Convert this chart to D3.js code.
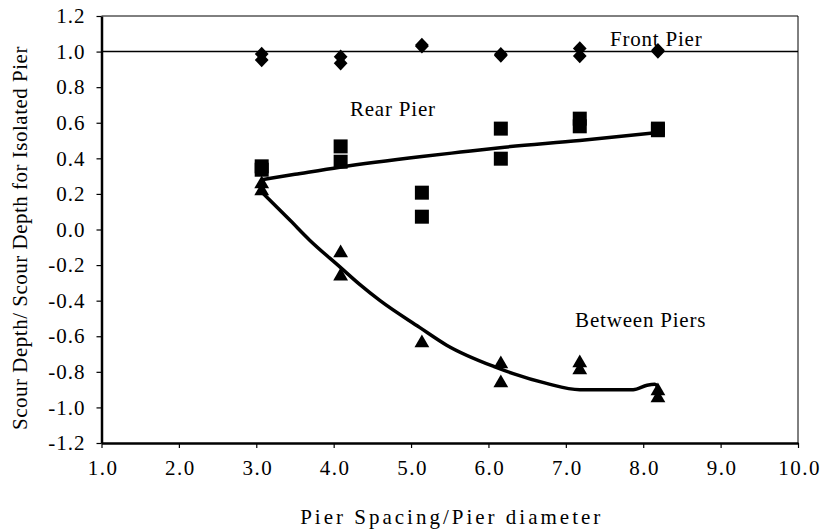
<!DOCTYPE html>
<html>
<head>
<meta charset="utf-8">
<script src="https://cdn.jsdelivr.net/npm/d3@7"></script>
<style>
  body { margin: 0; background: #fff; }
  text { font-family: "Liberation Serif", "Times New Roman", serif; fill: #000; }
</style>
</head>
<body>
<div id="chart"></div>
<script>
// data
const xTicks = [1, 2, 3, 4, 5, 6, 7, 8, 9, 10];
const yTicks = [-1.2, -1.0, -0.8, -0.6, -0.4, -0.2, 0.0, 0.2, 0.4, 0.6, 0.8, 1.0, 1.2];

const frontPier = [
  [3.07, 0.986], [3.07, 0.953], [4.09, 0.971], [4.09, 0.934],
  [5.14, 1.037], [5.14, 1.03], [6.16, 0.985], [6.16, 0.978],
  [7.18, 1.018], [7.18, 0.975], [8.19, 1.008], [8.19, 1.0]
];
const rearPier = [
  [3.07, 0.355], [3.07, 0.336], [4.09, 0.467], [4.09, 0.381],
  [5.14, 0.207], [5.14, 0.072], [6.16, 0.567], [6.16, 0.398],
  [7.18, 0.623], [7.18, 0.58], [8.19, 0.567], [8.19, 0.558]
];
const betweenPiers = [
  [3.07, 0.256], [3.07, 0.216], [4.09, -0.132], [4.09, -0.262],
  [5.14, -0.638], [6.16, -0.756], [6.16, -0.863],
  [7.18, -0.75], [7.18, -0.79], [8.19, -0.908], [8.19, -0.947]
];
const rearLine = [
  [3.07, 0.28], [3.5, 0.31], [4.08, 0.35], [5.14, 0.41], [5.64, 0.435],
  [6.15, 0.46], [7.18, 0.5], [8.19, 0.545]
];
const betweenLine = [
  [3.07, 0.21], [3.44, 0.05], [3.69, -0.06], [4.08, -0.21], [4.34, -0.31],
  [4.6, -0.4], [5.11, -0.55], [5.46, -0.65], [6.1, -0.775], [6.32, -0.81],
  [6.75, -0.865], [7.18, -0.9], [7.87, -0.9], [8.05, -0.875], [8.15, -0.87], [8.19, -0.885]
];
const labels = [
  { text: "Front Pier", x: 7.57, y: 1.031 },
  { text: "Rear Pier", x: 4.21, y: 0.638 },
  { text: "Between Piers", x: 7.12, y: -0.548 }
];

const W = 821, H = 531;
const mLeft = 101.5, mRight = 798, mTop = 16, mBottom = 443;

const svg = d3.select("#chart")
  .append("svg")
  .attr("width", W)
  .attr("height", H);

const x = d3.scaleLinear().domain([1, 10]).range([mLeft, mRight]);
const y = d3.scaleLinear().domain([-1.2, 1.2]).range([mBottom, mTop]);

// frame: thin top/right
svg.append("path")
  .attr("d", `M${mLeft},${mTop}H${mRight}V${mBottom}`)
  .attr("fill", "none")
  .attr("stroke", "#000")
  .attr("stroke-width", 1);

// reference line at 1.0
svg.append("line")
  .attr("x1", mLeft).attr("x2", mRight)
  .attr("y1", y(1)).attr("y2", y(1))
  .attr("stroke", "#000")
  .attr("stroke-width", 1.5);

// axes
const xAxis = svg.append("g")
  .attr("transform", `translate(0,${mBottom})`)
  .call(d3.axisBottom(x).tickValues(xTicks).tickFormat(d3.format(".1f")).tickSize(5).tickSizeOuter(0));
const yAxis = svg.append("g")
  .attr("transform", `translate(${mLeft},0)`)
  .call(d3.axisLeft(y).tickValues(yTicks).tickFormat(d => d3.format(".1f")(d).replace("−", "-")).tickSize(5).tickSizeOuter(0));

[xAxis, yAxis].forEach(g => {
  g.select(".domain").attr("stroke-width", 2.5);
  g.selectAll(".tick line").attr("stroke-width", 1.2);
  g.selectAll(".tick text")
    .style("font-family", '"Liberation Serif", "Times New Roman", serif')
    .style("font-size", "21px")
    .attr("fill", "#000");
});
xAxis.selectAll(".tick text").attr("y", 17).style("letter-spacing", "1.5px").attr("dx", 1);
yAxis.selectAll(".tick text").attr("x", -16).style("letter-spacing", "1px");

// axis titles
svg.append("text")
  .attr("x", (mLeft + mRight) / 2 + 2)
  .attr("y", 524)
  .attr("text-anchor", "middle")
  .style("font-size", "21px")
  .style("letter-spacing", "3px")
  .text("Pier Spacing/Pier diameter");

svg.append("text")
  .attr("transform", `translate(27,${(36 + 440) / 2}) rotate(-90)`)
  .attr("text-anchor", "middle")
  .style("font-size", "21px")
  .style("letter-spacing", "0.5px")
  .text("Scour Depth/ Scour Depth for Isolated Pier");

// fitted curves
const line = d3.line().x(d => x(d[0])).y(d => y(d[1])).curve(d3.curveMonotoneX);
[rearLine, betweenLine].forEach(pts => {
  svg.append("path")
    .attr("d", line(pts))
    .attr("fill", "none")
    .attr("stroke", "#000")
    .attr("stroke-width", 3.5)
    .attr("stroke-linejoin", "round");
});

// markers
svg.selectAll(".diamond")
  .data(frontPier)
  .enter()
  .append("path")
  .attr("d", d3.symbol(d3.symbolDiamond2, 120))
  .attr("transform", d => `translate(${x(d[0])},${y(d[1])}) scale(1,1.05)`)
  .attr("fill", "#000");

svg.selectAll(".square")
  .data(rearPier)
  .enter()
  .append("rect")
  .attr("x", d => x(d[0]) - 7)
  .attr("y", d => y(d[1]) - 7)
  .attr("width", 14)
  .attr("height", 14)
  .attr("fill", "#000");

svg.selectAll(".tri")
  .data(betweenPiers)
  .enter()
  .append("path")
  .attr("d", d3.symbol(d3.symbolTriangle, 95))
  .attr("transform", d => `translate(${x(d[0])},${y(d[1])})`)
  .attr("fill", "#000");

// series labels
svg.selectAll(".lbl")
  .data(labels)
  .enter()
  .append("text")
  .attr("x", d => x(d.x))
  .attr("y", d => y(d.y))
  .style("font-size", "21px")
  .style("letter-spacing", "0.8px")
  .text(d => d.text);
</script>
</body>
</html>
